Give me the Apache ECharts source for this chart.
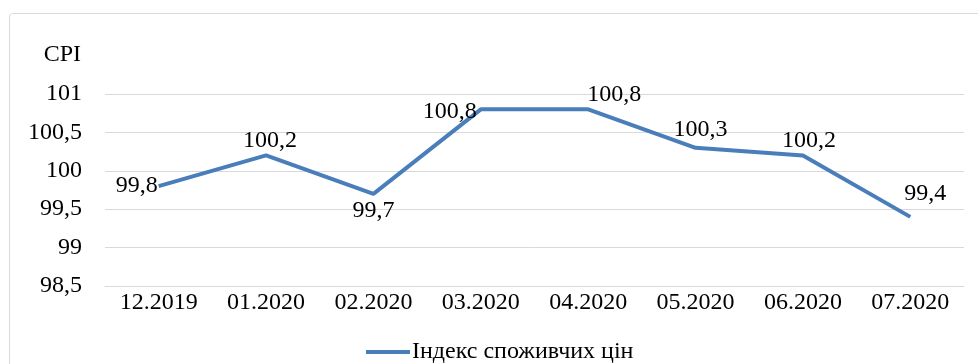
<!DOCTYPE html>
<html>
<head>
<meta charset="utf-8">
<script src="https://cdn.jsdelivr.net/npm/echarts@6/dist/echarts.min.js"></script>
<style>
  html, body { margin: 0; padding: 0; background: #fff; }
  #chart { width: 978px; height: 364px; }
</style>
</head>
<body>
<div id="chart"></div>
<script>
  // дані графіка
  const months = ['12.2019', '01.2020', '02.2020', '03.2020', '04.2020', '05.2020', '06.2020', '07.2020']
  const cpi = [99.8, 100.2, 99.7, 100.8, 100.8, 100.3, 100.2, 99.4]
  const seriesName = 'Індекс споживчих цін'
  const yTicks = [98.5, 99, 99.5, 100, 100.5, 101]

  const font = "'Liberation Serif', 'Times New Roman', serif"
  const fontSize = 24
  const lineColor = '#4a7ebb'

  // розміщення підписів значень (як в Excel)
  const labelPlace = [
    { position: 'left', distance: 1 },
    { position: 'top', distance: 3, offset: [4, 0] },
    { position: 'bottom', distance: 5 },
    { position: 'left', distance: 4, offset: [0, 2] },
    { position: 'top', distance: 3, offset: [26, 0] },
    { position: 'top', distance: 6, offset: [5, 0] },
    { position: 'top', distance: 3, offset: [6, 0] },
    { position: 'top', distance: 11, offset: [15, 0] }
  ]

  const comma = v => String(v).replace('.', ',')

  const chart = echarts.init(document.getElementById('chart'))
  chart.setOption({
    animation: false,
    textStyle: { fontFamily: font },
    graphic: [{
      type: 'rect',
      shape: { x: 9.5, y: 13.5, width: 1000, height: 400, r: 3 },
      style: { fill: 'none', stroke: '#d9d9d9', lineWidth: 1 },
      silent: true
    }],
    grid: { left: 105, right: 14, top: 94, bottom: 78 },
    legend: {
      data: [seriesName],
      left: 366,
      top: 340,
      padding: 0,
      icon: 'rect',
      itemWidth: 44,
      itemHeight: 4,
      itemStyle: { color: lineColor },
      textStyle: { fontFamily: font, fontSize: fontSize, color: '#000', padding: [0, 0, 0, -3] }
    },
    xAxis: {
      type: 'category',
      data: months,
      boundaryGap: true,
      axisLine: { show: true, lineStyle: { color: '#d9d9d9', width: 1 } },
      axisTick: { show: false },
      axisLabel: { color: '#000', fontFamily: font, fontSize: fontSize, margin: 5 }
    },
    yAxis: {
      type: 'value',
      min: yTicks[0],
      max: yTicks[yTicks.length - 1],
      interval: 0.5,
      name: 'CPI',
      nameLocation: 'end',
      nameGap: 39,
      nameTextStyle: {
        color: '#000', fontFamily: font, fontSize: fontSize,
        align: 'right', verticalAlign: 'middle', padding: [0, 24, 0, 0]
      },
      axisLine: { show: false },
      axisTick: { show: false },
      splitLine: { lineStyle: { color: '#d9d9d9', width: 1 } },
      axisLabel: { color: '#000', fontFamily: font, fontSize: fontSize, margin: 23, formatter: comma }
    },
    series: [{
      name: seriesName,
      type: 'line',
      symbol: 'circle',
      symbolSize: 0,
      showSymbol: true,
      lineStyle: { color: lineColor, width: 4 },
      itemStyle: { color: lineColor },
      data: cpi.map((v, i) => ({ value: v, label: labelPlace[i] })),
      label: {
        show: true,
        color: '#000',
        fontFamily: font,
        fontSize: fontSize,
        formatter: p => comma(p.value)
      }
    }]
  })
</script>
</body>
</html>
